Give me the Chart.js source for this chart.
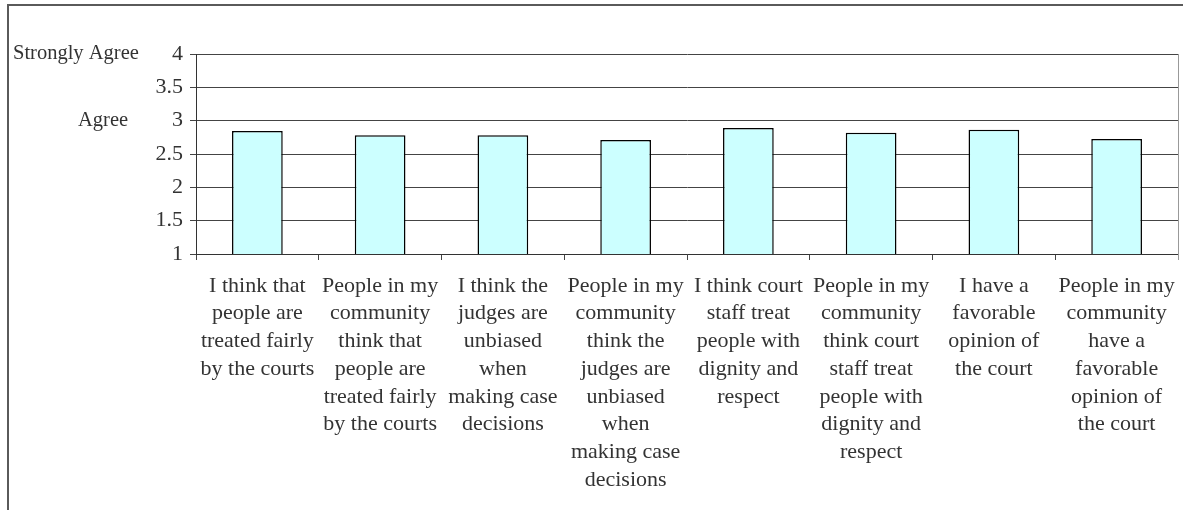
<!DOCTYPE html>
<html>
<head>
<meta charset="utf-8">
<script src="https://cdn.jsdelivr.net/npm/chart.js@4/dist/chart.umd.min.js"></script>
<style>
  html, body { margin: 0; padding: 0; background: #fff; overflow: hidden; }
  #wrap { position: relative; width: 1183px; height: 510px; }
  #frame { position: absolute; left: 7px; top: 4px; width: 1300px; height: 700px; border: 2px solid #5a5a5a; }
  #chart { position: absolute; left: 0; top: 0; }
</style>
</head>
<body>
<div id="wrap">
  <div id="frame"></div>
  <canvas id="chart" width="1183" height="510"></canvas>
</div>
<script>
// Statements (x axis, wrapped like the original)
const statements = [
  ["I think that", "people are", "treated fairly", "by the courts"],
  ["People in my", "community", "think that", "people are", "treated fairly", "by the courts"],
  ["I think the", "judges are", "unbiased", "when", "making case", "decisions"],
  ["People in my", "community", "think the", "judges are", "unbiased", "when", "making case", "decisions"],
  ["I think court", "staff treat", "people with", "dignity and", "respect"],
  ["People in my", "community", "think court", "staff treat", "people with", "dignity and", "respect"],
  ["I have a", "favorable", "opinion of", "the court"],
  ["People in my", "community", "have a", "favorable", "opinion of", "the court"]
];

// mean scores
const meanScores = [2.845, 2.78, 2.78, 2.71, 2.89, 2.82, 2.865, 2.725];

// scale words next to the numbers
const anchorValues = [4, 3];
const anchorLabels = ["Strongly Agree", "Agree"];
const anchorX = [13, 78];

const textColor = "#333";
const gridColor = "#444";

const anchorText = {
  id: "anchorText",
  afterDraw(chart) {
    const ctx = chart.ctx;
    const y = chart.scales.y;
    const area = chart.chartArea;
    ctx.save();
    // light right edge of the plot
    ctx.strokeStyle = "#999";
    ctx.lineWidth = 1;
    ctx.beginPath();
    ctx.moveTo(area.right + 0.5, area.top);
    ctx.lineTo(area.right + 0.5, area.bottom + 6);
    ctx.stroke();
    ctx.fillStyle = textColor;
    ctx.font = "20.5px 'Liberation Serif'";
    ctx.textAlign = "left";
    ctx.textBaseline = "middle";
    anchorValues.forEach((v, i) => {
      ctx.fillText(anchorLabels[i], anchorX[i], y.getPixelForValue(v));
    });
    ctx.restore();
  }
};

new Chart(document.getElementById("chart"), {
  type: "bar",
  data: {
    labels: statements,
    datasets: [{
      data: meanScores,
      backgroundColor: "#CCFFFF",
      borderColor: "#000",
      borderWidth: 1.5,
      barPercentage: 0.413,
      categoryPercentage: 1
    }]
  },
  options: {
    responsive: false,
    animation: false,
    devicePixelRatio: 1,
    layout: { padding: { top: 54, right: 5, bottom: 0, left: 0 } },
    plugins: {
      legend: { display: false },
      tooltip: { enabled: false }
    },
    scales: {
      x: {
        offset: true,
        grid: { offset: true, drawOnChartArea: false, drawTicks: true, tickLength: 6, color: gridColor },
        border: { color: "#333" },
        ticks: {
          autoSkip: false,
          maxRotation: 0,
          minRotation: 0,
          padding: 12,
          color: textColor,
          font: { family: "'Liberation Serif'", size: 22, lineHeight: 1.26 }
        },
        afterFit(scale) {
          scale.height = 256;
          scale.paddingLeft = 0;
          scale.paddingRight = 0;
        }
      },
      y: {
        min: 1,
        max: 4,
        ticks: {
          stepSize: 0.5,
          padding: 7,
          color: textColor,
          font: { family: "'Liberation Serif'", size: 22 },
          callback: (value) => String(Number(value))
        },
        grid: { color: gridColor, tickLength: 6 },
        border: { color: "#333" },
        afterFit(scale) { scale.width = 196; }
      }
    }
  },
  plugins: [anchorText]
});
</script>
</body>
</html>
